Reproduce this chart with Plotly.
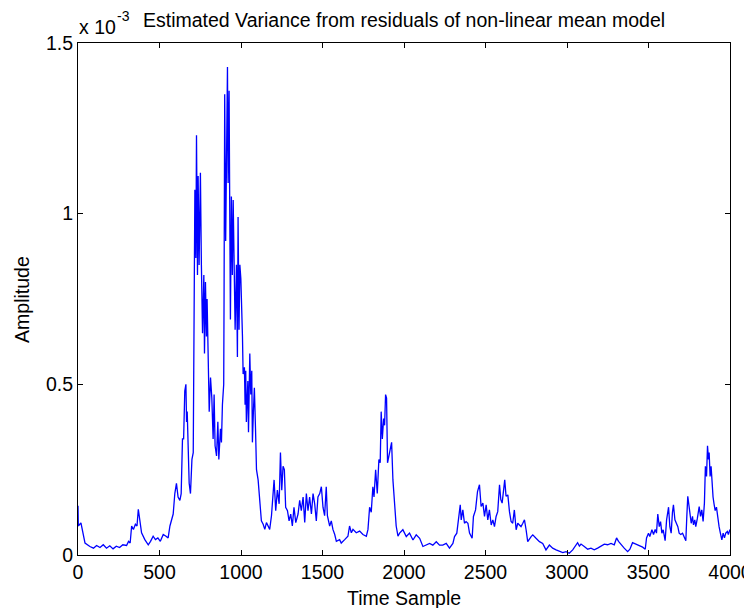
import plotly.graph_objects as go

# Time sample indices
sample_idx = [
    0, 2, 18, 33, 43, 73, 95, 114, 135, 155, 175, 195, 215, 235, 255, 275, 298, 310, 320, 329,
    340, 352, 362, 370, 378, 390, 410, 431, 445, 461, 475, 490, 505, 523, 540, 553, 564, 584, 594, 604,
    614, 625, 633, 641, 648, 655, 662, 666, 670, 676, 682, 690, 699, 707, 711, 715, 717, 723, 727, 733,
    737, 743, 751, 757, 764, 772, 776, 782, 788, 792, 798, 805, 813, 821, 829, 835, 841, 850, 858, 864,
    874, 880, 886, 894, 896, 900, 906, 911, 917, 921, 927, 931, 935, 941, 947, 952, 958, 964, 972, 978,
    982, 988,
    993, 999, 1009, 1013, 1021, 1025, 1029, 1033, 1042, 1046, 1054, 1060, 1066, 1070, 1076, 1082, 1089, 1095, 1105, 1115,
    1125, 1136, 1146, 1156, 1166, 1176, 1187, 1203, 1213, 1223, 1234, 1242, 1250, 1258, 1266, 1274, 1285, 1295, 1305, 1315,
    1325, 1336, 1350, 1360, 1370, 1381, 1391, 1401, 1411, 1421, 1432, 1442, 1452, 1462, 1472, 1483, 1493, 1503, 1513, 1523,
    1530, 1544, 1554, 1564, 1575, 1585, 1605, 1615, 1636, 1646, 1656, 1666, 1677, 1687, 1707, 1728, 1748, 1769, 1779, 1789,
    1799, 1809, 1816, 1826, 1836, 1846, 1854, 1860, 1867, 1875, 1881, 1887, 1893, 1899, 1907, 1916, 1924, 1932, 1942, 1952,
    1963,
    1973, 1993, 2014, 2034, 2055, 2075, 2096, 2116, 2136, 2157, 2177, 2198, 2218, 2238, 2259, 2279, 2300, 2310, 2324, 2336,
    2345, 2351, 2361, 2371, 2381, 2392, 2402, 2418, 2426, 2439, 2451, 2463, 2467, 2473, 2484, 2494, 2504, 2514, 2524, 2535,
    2545, 2555, 2565, 2575, 2586, 2594, 2602, 2610, 2618, 2626, 2637, 2647, 2657, 2667, 2677, 2688, 2698, 2708, 2718, 2729,
    2739, 2749, 2759, 2780, 2790, 2810, 2831, 2851, 2871, 2892, 2912, 2933, 2953,
    2974, 2994, 3014, 3035, 3055, 3065, 3076, 3086, 3106, 3127, 3147, 3167, 3188, 3208, 3229, 3249, 3270, 3290, 3304, 3316,
    3331, 3351, 3372, 3386, 3402, 3423, 3443, 3464, 3480, 3488, 3500, 3508, 3521, 3531, 3541, 3549, 3557, 3566, 3574, 3582,
    3590, 3602, 3611, 3619, 3623, 3631, 3639, 3647, 3653, 3662, 3672, 3680, 3688, 3698, 3709, 3719, 3729, 3735, 3741, 3749,
    3755, 3762, 3770, 3776, 3784, 3790, 3800, 3811, 3819, 3827, 3835, 3843, 3849, 3856, 3862, 3868, 3872, 3878, 3884, 3890,
    3896, 3902, 3909, 3917, 3925, 3933, 3941, 3950, 3958, 3966, 3974, 3984, 3990, 4000,
]

# Estimated variance, in units of 1e-3
variance_e3 = [
    0.144, 0.085, 0.094, 0.06, 0.035, 0.025, 0.02, 0.028, 0.022, 0.03, 0.02, 0.027, 0.018, 0.026, 0.022, 0.03, 0.028, 0.04, 0.035, 0.085,
    0.075, 0.09, 0.085, 0.134, 0.104, 0.065, 0.045, 0.03, 0.04, 0.055, 0.045, 0.05, 0.04, 0.06, 0.055, 0.05, 0.085, 0.12, 0.18, 0.21,
    0.17, 0.16, 0.18, 0.34, 0.34, 0.48, 0.50, 0.39, 0.42, 0.31, 0.21, 0.18, 0.28, 0.30, 0.78, 0.73, 1.07, 0.87, 1.23, 0.82,
    1.11, 0.85, 1.12, 0.85, 0.65, 0.82, 0.59, 0.80, 0.64, 0.75, 0.53, 0.42, 0.52, 0.46, 0.34, 0.47, 0.32, 0.29, 0.39, 0.28,
    0.37, 0.33, 0.44, 0.50, 0.75, 1.35, 0.92, 1.23, 1.43, 1.09, 1.36, 1.01, 0.69, 1.05, 0.82, 1.04, 0.74, 0.66, 0.85, 0.58,
    0.99, 0.66,
    0.85, 0.81, 0.64, 0.53, 0.55, 0.44, 0.54, 0.39, 0.51, 0.36, 0.59, 0.47, 0.54, 0.33, 0.42, 0.49, 0.37, 0.25, 0.22, 0.16,
    0.10, 0.09, 0.075, 0.095, 0.085, 0.075, 0.115, 0.22, 0.13, 0.19, 0.15, 0.30, 0.19, 0.26, 0.25, 0.14, 0.13, 0.10, 0.12, 0.085,
    0.14, 0.095, 0.12, 0.16, 0.13, 0.17, 0.095, 0.18, 0.13, 0.17, 0.12, 0.18, 0.15, 0.10, 0.17, 0.18, 0.20, 0.14, 0.115, 0.20,
    0.115, 0.085, 0.10, 0.075, 0.06, 0.04, 0.045, 0.035, 0.045, 0.05, 0.055, 0.085, 0.065, 0.075, 0.065, 0.07, 0.06, 0.055, 0.075, 0.14,
    0.125, 0.20, 0.17, 0.25, 0.18, 0.28, 0.27, 0.42, 0.34, 0.40, 0.38, 0.47, 0.46, 0.27, 0.29, 0.31, 0.33, 0.22, 0.135, 0.085,
    0.055,
    0.064, 0.074, 0.054, 0.064, 0.044, 0.059, 0.049, 0.025, 0.029, 0.034, 0.029, 0.039, 0.029, 0.029, 0.034, 0.020, 0.034, 0.054, 0.064, 0.103,
    0.147, 0.103, 0.132, 0.093, 0.098, 0.093, 0.064, 0.049, 0.113, 0.132, 0.186, 0.206, 0.172, 0.142, 0.152, 0.113, 0.147, 0.103, 0.132, 0.088,
    0.103, 0.083, 0.113, 0.127, 0.206, 0.162, 0.152, 0.181, 0.22, 0.172, 0.176, 0.127, 0.098, 0.093, 0.132, 0.074, 0.093, 0.088, 0.083, 0.093,
    0.103, 0.074, 0.039, 0.054, 0.059, 0.049, 0.039, 0.034, 0.015, 0.029, 0.020, 0.015, 0.01,
    0.007, 0.01, 0.005, 0.015, 0.03, 0.036, 0.026, 0.032, 0.025, 0.017, 0.02, 0.015, 0.02, 0.025, 0.032, 0.03, 0.034, 0.03, 0.05, 0.04,
    0.03, 0.02, 0.01, 0.017, 0.036, 0.032, 0.026, 0.023, 0.017, 0.05, 0.064, 0.054, 0.074, 0.06, 0.075, 0.064, 0.12, 0.083, 0.098, 0.064,
    0.074, 0.042, 0.103, 0.125, 0.14, 0.083, 0.064, 0.125, 0.147, 0.103, 0.093, 0.083, 0.064, 0.06, 0.064, 0.054, 0.042, 0.113, 0.172, 0.142,
    0.113, 0.093, 0.113, 0.088, 0.103, 0.083, 0.108, 0.142, 0.113, 0.132, 0.098, 0.152, 0.26, 0.23, 0.32, 0.28, 0.30, 0.23, 0.26, 0.20,
    0.17, 0.15, 0.13, 0.14, 0.10, 0.083, 0.064, 0.044, 0.064, 0.05, 0.064, 0.069, 0.06, 0.075,
]

x_ticks = [0, 500, 1000, 1500, 2000, 2500, 3000, 3500, 4000]
x_tick_labels = [str(v) for v in x_ticks]
y_ticks = [0, 0.5, 1, 1.5]
y_tick_labels = ["0", "0.5", "1", "1.5"]

FONT = "Liberation Sans, Arial, sans-serif"
FS = 19.5

fig = go.Figure()
fig.add_trace(go.Scatter(
    x=sample_idx, y=variance_e3, mode="lines",
    line=dict(color="#0000ff", width=1.3), showlegend=False,
))

axis_common = dict(
    showline=True, linecolor="black", linewidth=1, mirror="ticks",
    ticks="inside", ticklen=5, tickcolor="black", tickwidth=1,
    showgrid=False, zeroline=False, automargin=False,
    tickfont=dict(family=FONT, size=FS, color="black"),
)

# The page body adds an 8px offset, so the figure is 8px smaller and left/top margins shifted
fig.update_layout(
    width=744, height=600,
    paper_bgcolor="white", plot_bgcolor="white",
    margin=dict(l=70, r=22, t=35, b=53),
    font=dict(family=FONT, size=FS, color="black"),
    xaxis=dict(range=[0, 4000], tickvals=x_ticks, ticktext=x_tick_labels, **axis_common),
    yaxis=dict(range=[0, 1.5], tickvals=y_ticks, ticktext=y_tick_labels, **axis_common),
)

txt_font = dict(family=FONT, size=FS, color="black")
# Title
fig.add_annotation(
    text="Estimated Variance from residuals of non-linear mean model",
    xref="paper", yref="paper", x=0.5, y=1.045, xanchor="center", yanchor="middle",
    showarrow=False, font=txt_font,
)
# Axis titles
fig.add_annotation(
    text="Time Sample", xref="paper", yref="paper", x=0.5, y=-0.084,
    xanchor="center", yanchor="middle", showarrow=False, font=txt_font,
)
fig.add_annotation(
    text="Amplitude", xref="paper", yref="paper", x=-0.086, y=0.5,
    xanchor="center", yanchor="middle", textangle=-90, showarrow=False, font=txt_font,
)
# Exponent label: "x 10" with raised "-3"
fig.add_annotation(
    text="x 10", xref="paper", yref="paper",
    x=0.0, y=1.032, xanchor="left", yanchor="middle", xshift=-1,
    showarrow=False, font=txt_font,
)
fig.add_annotation(
    text="-3", xref="paper", yref="paper",
    x=0.058, y=1.053, xanchor="left", yanchor="middle", borderpad=0,
    showarrow=False, font=dict(family=FONT, size=14, color="black"),
)

fig.write_html("out.html")
